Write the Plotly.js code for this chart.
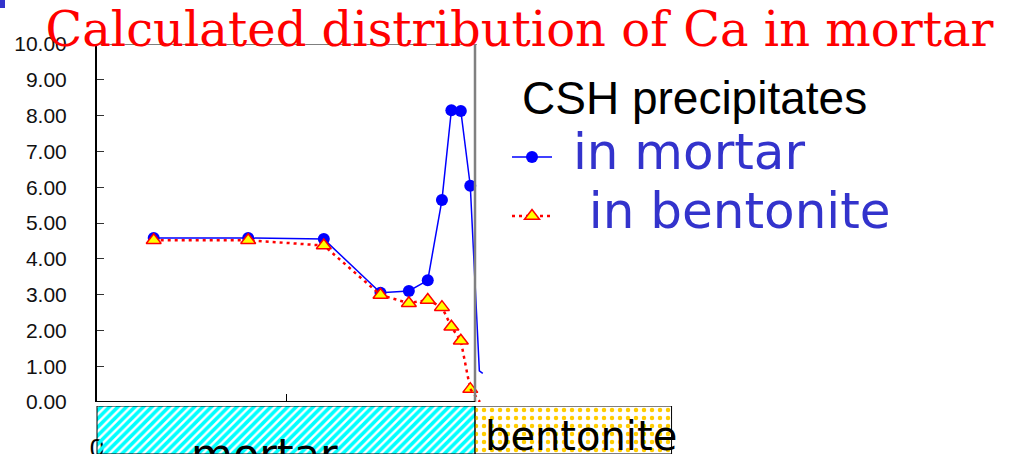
<!DOCTYPE html>
<html>
<head>
<meta charset="utf-8">
<script src="https://cdn.plot.ly/plotly-3.0.1.min.js"></script>
<style>html,body{margin:0;padding:0;background:#fff;}#chart{width:1014px;height:454px;}</style>
</head>
<body>
<div id="chart"></div>
<script>
// ---- data ----
const distance      = [0.3, 0.8, 1.2, 1.5, 1.65, 1.75, 1.825, 1.875, 1.925, 1.975];
const inMortar      = [4.58, 4.58, 4.55, 3.05, 3.10, 3.40, 5.64, 8.15, 8.13, 6.04];
const inBentonite   = [4.52, 4.52, 4.37, 2.99, 2.76, 2.85, 2.65, 2.10, 1.71, 0.36];
// continuation of the curves past the interface (no markers drawn there)
const mortarTailX    = [2.023, 2.041];
const mortarTailY    = [0.87, 0.80];
const bentoniteTailX = [2.026];
const bentoniteTailY = [0.0];
// material zones along the distance axis
const zoneNames = ['mortar', 'bentonite'];
const zoneStart = [0.0, 2.0];
const zoneEnd   = [2.0, 3.04];
const yTicks    = [0, 1, 2, 3, 4, 5, 6, 7, 8, 9, 10];
const seriesNames = ['in mortar', 'in bentonite'];
const legendHeading = 'CSH precipitates';

const W = 1014, H = 454;
const X0 = 97, PXU = 189;           // px of distance 0, px per unit
const xMax = 2.08;
const yTopPx = 44, yBotPx = 402, bandTopPx = 406;

const big = s => '<span style="font-size:50px">' + s + '</span>';
const last = distance.length - 1;
const traces = [
  {x: distance, y: inMortar, name: big('&nbsp;' + seriesNames[0]), legendgroup: 'a', mode: 'lines+markers',
   xaxis: 'x', yaxis: 'y',
   line: {color: '#0000FF', width: 1.5}, marker: {symbol: 'circle', size: 12, color: '#0000FF'}},
  {x: [distance[last]].concat(mortarTailX), y: [inMortar[last]].concat(mortarTailY), mode: 'lines',
   showlegend: false, hoverinfo: 'skip', xaxis: 'x', yaxis: 'y', line: {color: '#0000FF', width: 1.5}},
  {x: distance, y: inBentonite, name: big('&nbsp;&nbsp;' + seriesNames[1]), legendgroup: 'b', mode: 'lines+markers',
   xaxis: 'x', yaxis: 'y',
   line: {color: '#FF0000', width: 2.5, dash: '3px,4px'},
   marker: {symbol: 'triangle-up', size: 13, color: '#FFFF00', line: {color: '#FF0000', width: 1.5}}},
  {x: [distance[last]].concat(bentoniteTailX), y: [inBentonite[last]].concat(bentoniteTailY), mode: 'lines',
   showlegend: false, hoverinfo: 'skip', xaxis: 'x', yaxis: 'y', line: {color: '#FF0000', width: 2.5, dash: '3px,4px'}},
  {type: 'bar', orientation: 'h', xaxis: 'x2', yaxis: 'y2', showlegend: false, hoverinfo: 'skip',
   y: zoneNames.map(() => 'zone'), base: zoneStart, x: zoneEnd.map((e, i) => e - zoneStart[i]),
   width: 1,
   marker: {color: ['#00FFFF', '#FFCC00'], line: {color: '#000000', width: 1},
            pattern: {shape: ['/', '.'], fgcolor: ['#001818', '#000000'], bgcolor: ['#00FFFF', '#FFCC00'],
                      size: [6, 8], solidity: [0.6, 0.25], fillmode: 'replace'}}}
];

const zoneShift = [-22, 8];
const annotations = zoneNames.map((n, i) => ({
  text: n, xref: 'x2', yref: 'paper', x: (zoneStart[i] + zoneEnd[i]) / 2, xshift: zoneShift[i],
  y: i === 0 ? -0.06 : -0.015, yanchor: 'bottom', showarrow: false,
  font: {family: 'DejaVu Sans', size: i === 0 ? 43 : 40, color: '#000000'}
}));
annotations.push({
  text: legendHeading, xref: 'paper', yref: 'paper', x: 520 / W, xanchor: 'left',
  y: 1 - 98 / H, yanchor: 'middle', showarrow: false,
  font: {family: 'Liberation Sans', size: 46, color: '#000000'}
});

const layout = {
  width: W, height: H,
  margin: {l: 0, r: 0, t: 0, b: 0, pad: 0},
  paper_bgcolor: '#FFFFFF', plot_bgcolor: 'rgba(0,0,0,0)',
  showlegend: true, barmode: 'overlay',
  title: {text: 'Calculated distribution of Ca in mortar', xref: 'container', yref: 'container',
          x: 519.5 / W, xanchor: 'center', y: 1 - 29 / H, yanchor: 'middle',
          font: {family: 'DejaVu Serif', size: 48, color: '#FF0000'}},
  xaxis: {domain: [X0 / W, (X0 + PXU * xMax) / W], range: [0, xMax], showgrid: false, zeroline: false,
          showline: false, ticks: 'inside', ticklen: 8, tickwidth: 1, tickcolor: '#000000',
          tickvals: [0, 1, 2], ticktext: ['0', '', ''], ticklabelstandoff: 28,
          tickfont: {family: 'Liberation Sans', size: 26, color: '#000000'}},
  yaxis: {domain: [1 - yBotPx / H, 1 - yTopPx / H], range: [0, 10], showgrid: false, zeroline: false,
          showline: true, linecolor: '#000000', linewidth: 2, ticks: 'inside', ticklen: 7, tickwidth: 1,
          tickcolor: '#333333', tickvals: yTicks, tickformat: '.2f', ticklabelstandoff: 24,
          tickfont: {family: 'Liberation Sans', size: 21, color: '#111111'}},
  xaxis2: {domain: [0, 1], range: [-X0 / PXU, (W - X0) / PXU], visible: false, anchor: 'y2'},
  yaxis2: {domain: [0, 1 - bandTopPx / H], range: [-0.5, 0.5], visible: false, anchor: 'x2', type: 'category'},
  legend: {x: 507 / W, xanchor: 'left', y: 1 - 131 / H, yanchor: 'top', bgcolor: 'rgba(0,0,0,0)', borderwidth: 0,
           itemwidth: 40, tracegroupgap: 17, traceorder: 'grouped',
           font: {family: 'DejaVu Sans', size: 30, color: '#3333CC'}},
  shapes: [
    {type: 'line', xref: 'x', yref: 'y', x0: 0, x1: 2.01, y0: 10, y1: 10, line: {color: '#000000', width: 1}},
    {type: 'line', xref: 'x', yref: 'y', x0: 2.0, x1: 2.0, y0: 0, y1: 10, line: {color: '#808080', width: 2.5}},
    {type: 'line', xref: 'x', yref: 'y', x0: -0.005, x1: 2.0, y0: 0, y1: 0, line: {color: '#000000', width: 2}},
    {type: 'rect', xref: 'paper', yref: 'paper', x0: 0, x1: 5 / W, y0: 1 - 8 / H, y1: 1,
     line: {width: 0}, fillcolor: '#3333CC'}
  ],
  annotations: annotations
};

Plotly.newPlot('chart', traces, layout, {staticPlot: true, displayModeBar: false});
</script>
</body>
</html>
